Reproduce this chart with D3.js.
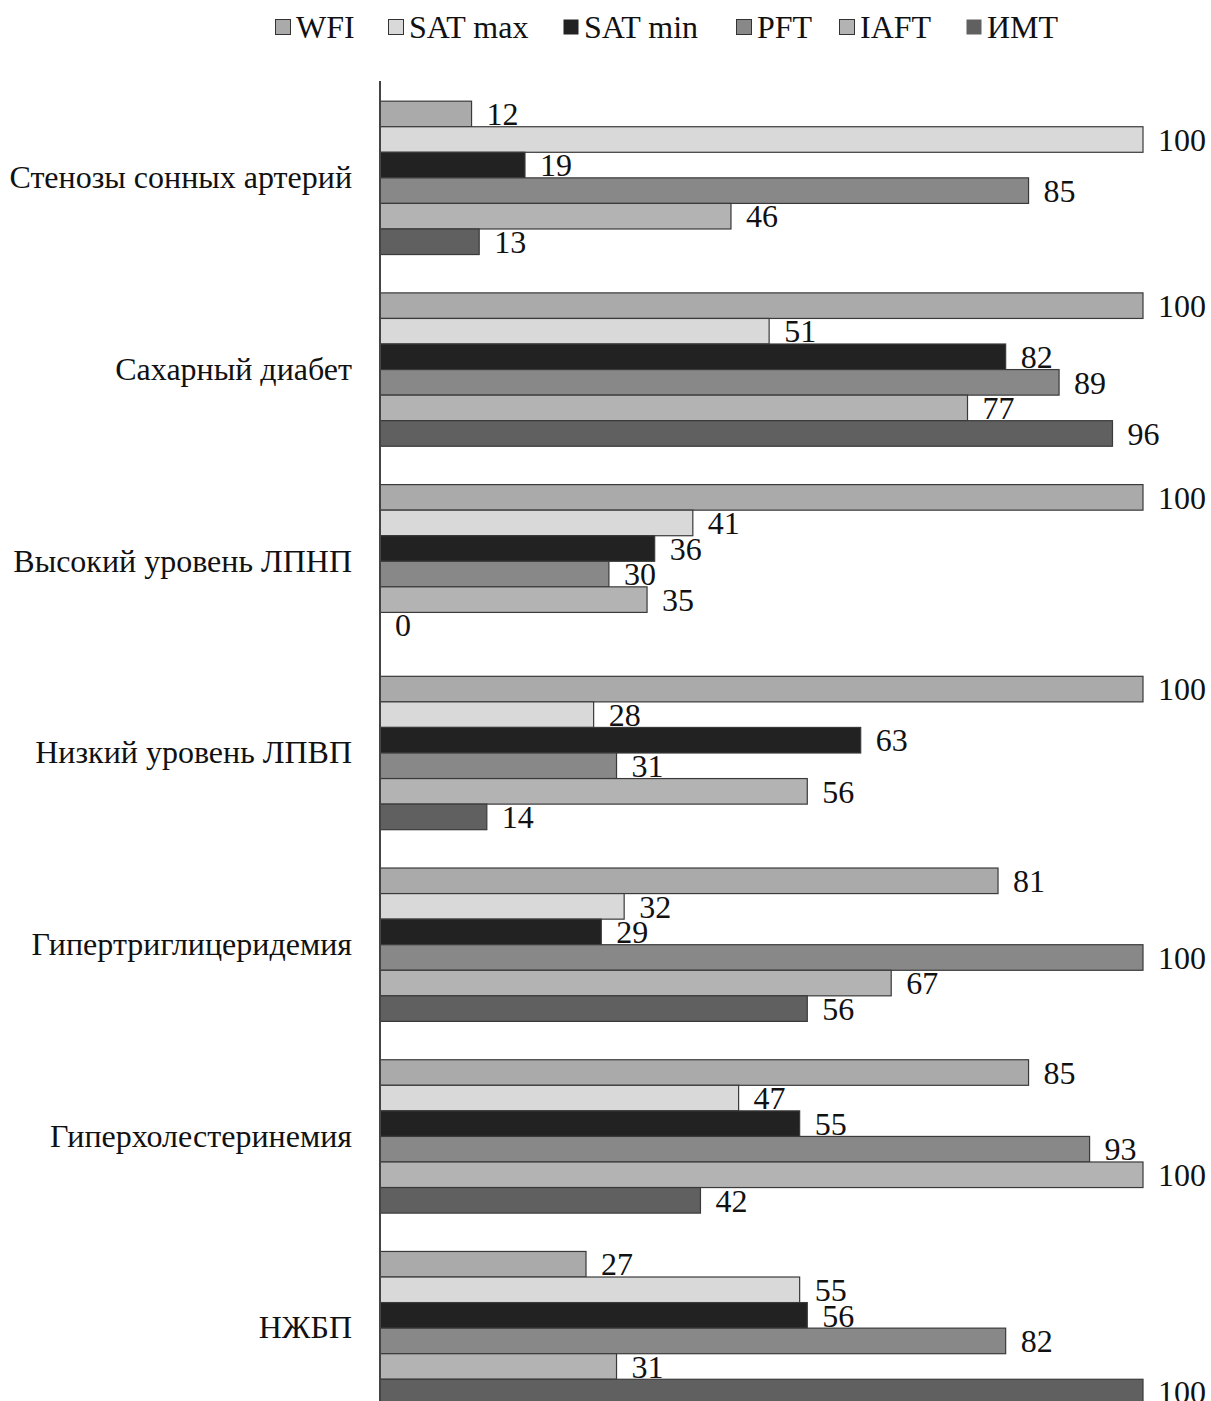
<!DOCTYPE html>
<html>
<head>
<meta charset="utf-8">
<script src="https://cdn.jsdelivr.net/npm/d3@7"></script>
<style>
  html, body { margin: 0; padding: 0; background: #fff; }
  svg { display: block; }
  text { font-family: "Liberation Serif", "Times New Roman", serif; fill: #111; }
</style>
</head>
<body>
<svg id="chart" width="1211" height="1401"></svg>
<script>
// Risk factors (groups) and indicators (bars within each group)
const categories = [
  "Стенозы сонных артерий",
  "Сахарный диабет",
  "Высокий уровень ЛПНП",
  "Низкий уровень ЛПВП",
  "Гипертриглицеридемия",
  "Гиперхолестеринемия",
  "НЖБП"
];
const seriesNames = ["WFI", "SAT max", "SAT min", "PFT", "IAFT", "ИМТ"];
const seriesColors = ["#aaaaaa", "#d9d9d9", "#222222", "#888888", "#b3b3b3", "#606060"];

const WFI    = [12, 100, 100, 100, 81, 85, 27];
const SATmax = [100, 51, 41, 28, 32, 47, 55];
const SATmin = [19, 82, 36, 63, 29, 55, 56];
const PFT    = [85, 89, 30, 31, 100, 93, 82];
const IAFT   = [46, 77, 35, 56, 67, 100, 31];
const IMT    = [13, 96, 0, 14, 56, 42, 100];

const seriesValues = [WFI, SATmax, SATmin, PFT, IAFT, IMT];

const rows = categories.map((c, i) => ({
  category: c,
  values: seriesNames.map((s, k) => ({ series: s, k, value: seriesValues[k][i] }))
}));

const svg = d3.select("#chart");
const plotLeft = 380, plotRight = 1143;
const plotTop = 82, plotBottom = 1424;
const fontSize = 32;

const x = d3.scaleLinear().domain([0, 100]).range([plotLeft, plotRight]);
const y0 = d3.scaleBand().domain(categories).range([plotTop, plotBottom])
  .paddingInner(0.2).paddingOuter(0.1);
const y1 = d3.scaleBand().domain(seriesNames).range([0, y0.bandwidth()]);

const color = d3.scaleOrdinal().domain(seriesNames).range(seriesColors);

// Bars
const groups = svg.append("g").selectAll("g")
  .data(rows).join("g")
  .attr("transform", d => `translate(0,${y0(d.category)})`);

groups.selectAll("rect")
  .data(d => d.values.filter(v => v.value > 0))
  .join("rect")
  .attr("x", x(0))
  .attr("y", d => y1(d.series))
  .attr("width", d => x(d.value) - x(0))
  .attr("height", y1.bandwidth())
  .attr("fill", d => color(d.series))
  .attr("stroke", "#3a3a3a")
  .attr("stroke-width", 1.2);

// Value labels
groups.selectAll("text")
  .data(d => d.values)
  .join("text")
  .attr("x", d => x(d.value) + 15)
  .attr("y", d => y1(d.series) + y1.bandwidth() / 2)
  .attr("dy", "0.35em")
  .attr("font-size", fontSize)
  .text(d => d.value);

// Category axis
const axis = d3.axisLeft(y0).tickSize(0).tickPadding(28);
const axisG = svg.append("g").attr("transform", `translate(${plotLeft},0)`).call(axis);
axisG.select(".domain").attr("stroke", "#444").attr("stroke-width", 2)
  .attr("d", `M0,${plotTop - 1}V${plotBottom}`);
axisG.selectAll(".tick text")
  .attr("font-size", fontSize)
  .attr("fill", "#111");

// Legend
const legendX = [275, 388, 563, 736, 839, 966];
const legend = svg.append("g").selectAll("g")
  .data(seriesNames).join("g")
  .attr("transform", (d, i) => `translate(${legendX[i]},27)`);
legend.append("rect")
  .attr("x", 0.5).attr("y", -7.5).attr("width", 15).attr("height", 15)
  .attr("fill", d => color(d))
  .attr("stroke", (d, i) => (i === 2 || i === 5) ? "none" : "#333")
  .attr("stroke-width", 1);
legend.append("text")
  .attr("x", 21).attr("y", 0).attr("dy", "0.35em")
  .attr("font-size", fontSize)
  .text(d => d);
</script>
</body>
</html>
